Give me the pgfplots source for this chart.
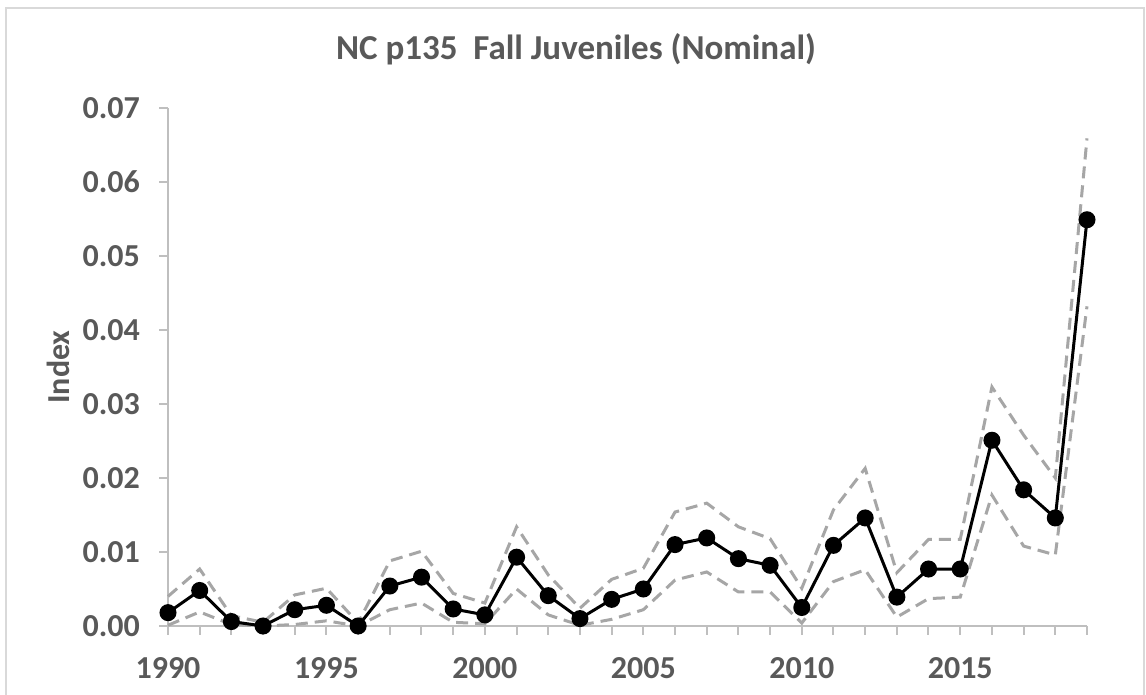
\documentclass[border=0pt]{standalone}
\usepackage{fontspec}
\setmainfont{Carlito}
\usepackage{pgfplots}
\pgfplotsset{compat=1.18}
\usepackage{pgfplotstable}
\definecolor{txt}{HTML}{595959}
\definecolor{axl}{HTML}{BFBFBF}
\definecolor{dashgray}{HTML}{A6A6A6}
\pgfplotstableread{
year mean upper lower
1990 0.0018 0.0040 0.0001
1991 0.0048 0.0077 0.0019
1992 0.0006 0.0014 0.0002
1993 0.0000 0.0005 0.0000
1994 0.0022 0.0042 0.0002
1995 0.0028 0.0051 0.0007
1996 0.0000 0.0004 0.0000
1997 0.0054 0.0088 0.0022
1998 0.0066 0.0101 0.0031
1999 0.0023 0.0044 0.0005
2000 0.0015 0.0031 0.0003
2001 0.0093 0.0134 0.0050
2002 0.0041 0.0069 0.0015
2003 0.0010 0.0024 0.0001
2004 0.0036 0.0063 0.0009
2005 0.0050 0.0078 0.0022
2006 0.0110 0.0154 0.0062
2007 0.0119 0.0166 0.0073
2008 0.0091 0.0134 0.0046
2009 0.0082 0.0118 0.0046
2010 0.0025 0.0051 0.0004
2011 0.0109 0.0157 0.0060
2012 0.0146 0.0213 0.0076
2013 0.0039 0.0072 0.0012
2014 0.0077 0.0117 0.0037
2015 0.0077 0.0117 0.0039
2016 0.0251 0.0323 0.0177
2017 0.0184 0.0258 0.0108
2018 0.0146 0.0200 0.0096
2019 0.0549 0.0659 0.0432
}\datatable
\begin{document}
\begin{tikzpicture}
\useasboundingbox (0,0) rectangle (573pt,347.5pt);
\fill[white] (0,0) rectangle (573pt,347.5pt);
\draw[black!15, line width=1pt] (3pt,-10pt) rectangle (572pt,343.5pt);
\node[anchor=base, text=txt, font=\bfseries\fontsize{17.5}{20}\selectfont] at (288pt,317.5pt) {NC p135\ \ Fall Juveniles (Nominal)};
\begin{axis}[
  at={(84pt,34.5pt)}, anchor=south west,
  scale only axis, width=459.5pt, height=259pt,
  xmin=1990, xmax=2019, ymin=0, ymax=0.07,
  clip=false,
  axis x line=bottom, axis y line=left,
  axis line style={-, axl, line width=1pt},
  xtick={1990,1995,...,2015},
  minor xtick={1990,...,2019},
  ytick={0,0.01,...,0.07},
  tick align=outside,
  major tick length=4.5pt, minor tick length=4.5pt,
  tick style={axl, line width=1pt},
  /pgf/number format/assume math mode=true,
  ticklabel style={text=txt, font=\bfseries\fontsize{16}{18}\selectfont},
  xticklabel style={/pgf/number format/1000 sep={}, yshift=-7.5pt},
  yticklabel style={/pgf/number format/fixed, /pgf/number format/fixed zerofill, /pgf/number format/precision=2, xshift=-6pt},
  ylabel={Index},
  every axis y label/.style={at={(axis description cs:-0.1197,0.5)}, anchor=center, rotate=90, text=txt, font=\bfseries\fontsize{16}{18}\selectfont},
  scaled y ticks=false,
]
\addplot[dashgray, line width=1.5pt, dash pattern=on 6pt off 3.5pt, no markers] table[x=year, y=upper] {\datatable};
\addplot[dashgray, line width=1.5pt, dash pattern=on 6pt off 3.5pt, no markers] table[x=year, y=lower] {\datatable};
\addplot[black, line width=1.5pt, mark=*, mark size=3.5pt, mark options={solid, fill=black}] table[x=year, y=mean] {\datatable};
\end{axis}
\end{tikzpicture}
\end{document}
